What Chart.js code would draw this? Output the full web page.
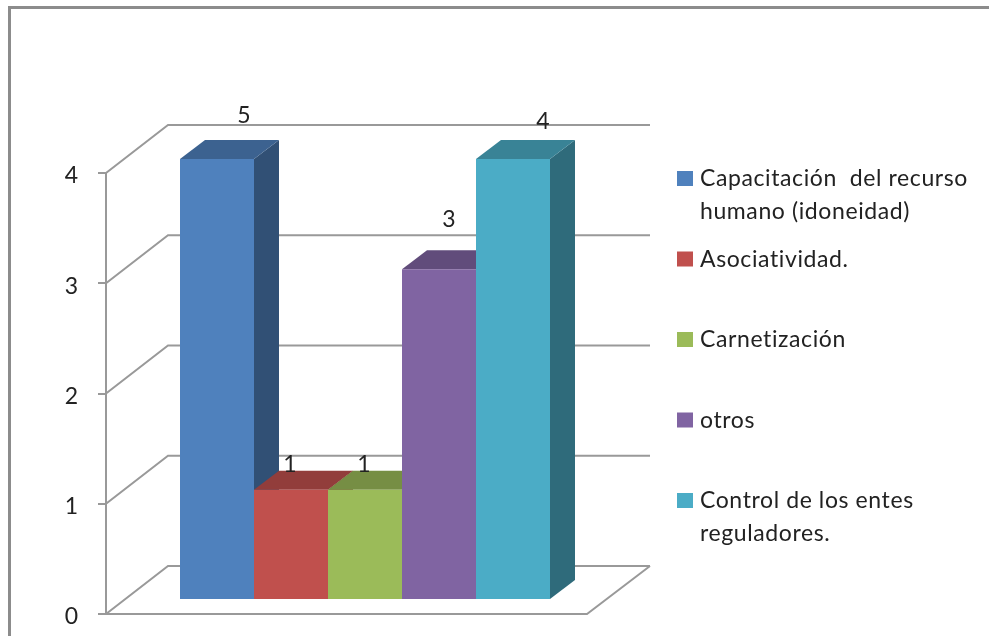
<!DOCTYPE html>
<html lang="es">

<head>
    <meta charset="UTF-8">
    <title>Grafico de barras 3D</title>
    <script src="https://cdn.jsdelivr.net/npm/chart.js"></script>
    <style>
        html, body { margin: 0; padding: 0; background: #fff; }
        canvas { display: block; }
    </style>
</head>

<body>
    <canvas id="barChart" width="989" height="636"></canvas>

    <script>
        // Data. The first bar is labelled 5 but the axis stops at 4.
        const categories = [''];
        const seriesNames = [
            'Capacitación  del recurso humano (idoneidad)',
            'Asociatividad.',
            'Carnetización',
            'otros',
            'Control de los entes reguladores.'
        ];
        const seriesValues = [5, 1, 1, 3, 4];
        const legendLines = [
            ['Capacitación  del recurso', 'humano (idoneidad)'],
            ['Asociatividad.'],
            ['Carnetización'],
            ['otros'],
            ['Control de los entes', 'reguladores.']
        ];
        const seriesColors = ['#4F81BD', '#C0504D', '#9BBB59', '#8064A2', '#4BACC6'];

        const FONT = 'Lato, "Open Sans", sans-serif';
        const LINE = '#999999';

        // 3D look, in pixels
        const wall = { dx: 62, dy: -48, right: 650 };
        const barShift = { dx: 18.5, dy: -14 };
        const depth = { dx: 25, dy: -19 };
        // Data labels were moved by hand in the original
        const labelNudge = [[27, -43], [-1, -25], [-1, -25], [10, -50], [30, -37]];

        function shade(hex, f) {
            const n = parseInt(hex.slice(1), 16);
            const c = [n >> 16, (n >> 8) & 255, n & 255].map(v => Math.round(v * f));
            return `rgb(${c[0]}, ${c[1]}, ${c[2]})`;
        }

        function poly(ctx, pts, fill) {
            ctx.beginPath();
            pts.forEach((p, i) => i ? ctx.lineTo(p[0], p[1]) : ctx.moveTo(p[0], p[1]));
            ctx.closePath();
            ctx.fillStyle = fill;
            ctx.fill();
        }

        const look3d = {
            id: 'look3d',
            beforeDraw(chart) {
                // chart frame: only top and left show in the picture
                const ctx = chart.ctx;
                ctx.save();
                ctx.fillStyle = '#8c8c8c';
                ctx.fillRect(8, 6, chart.width - 8, 3);
                ctx.fillRect(8, 6, 3, chart.height - 6);
                ctx.restore();
            },
            beforeDatasetsDraw(chart) {
                const ctx = chart.ctx;
                const y = chart.scales.y;
                const area = chart.chartArea;
                ctx.save();
                ctx.strokeStyle = LINE;
                ctx.lineWidth = 2;
                y.ticks.forEach(t => {
                    const py = y.getPixelForValue(t.value);
                    ctx.beginPath();
                    ctx.moveTo(area.left, py);
                    ctx.lineTo(area.left + wall.dx, py + wall.dy);
                    ctx.lineTo(wall.right, py + wall.dy);
                    ctx.stroke();
                });
                // rest of the floor
                const base = y.getPixelForValue(0);
                ctx.beginPath();
                ctx.moveTo(area.left, base);
                ctx.lineTo(area.right, base);
                ctx.lineTo(wall.right, base + wall.dy);
                ctx.stroke();
                ctx.restore();

                // left bar first so each bar covers the side of the one before it,
                // the library would draw them the other way round
                ctx.save();
                ctx.translate(barShift.dx, barShift.dy);
                chart.getSortedVisibleDatasetMetas().forEach(meta => {
                    const el = meta.data[0];
                    const color = seriesColors[meta.index];
                    const top = Math.max(el.y, area.top);
                    const l = el.x - el.width / 2;
                    const r = el.x + el.width / 2;
                    poly(ctx, [[r, top], [r + depth.dx, top + depth.dy],
                        [r + depth.dx, el.base + depth.dy], [r, el.base]], shade(color, 0.62));
                    poly(ctx, [[l, top], [l + depth.dx, top + depth.dy],
                        [r + depth.dx, top + depth.dy], [r, top]], shade(color, 0.76));
                    ctx.save();
                    ctx.beginPath();
                    ctx.rect(area.left, area.top, area.width, area.height);
                    ctx.clip();
                    meta.controller.draw();
                    ctx.restore();
                });
                ctx.restore();
                return false;
            },
            afterDraw(chart) {
                const ctx = chart.ctx;
                const y = chart.scales.y;
                ctx.save();
                ctx.font = '23px ' + FONT;
                ctx.fillStyle = '#222222';
                ctx.textAlign = 'center';
                ctx.textBaseline = 'middle';
                seriesValues.forEach((v, i) => {
                    const el = chart.getDatasetMeta(i).data[0];
                    const top = Math.max(el.y, y.top) + barShift.dy;
                    ctx.fillText(String(v), el.x + barShift.dx + labelNudge[i][0], top + labelNudge[i][1]);
                });

                // legend, two-line entries do not fit the built in one
                const startY = 178.5;
                const stepY = 80.5;
                ctx.textAlign = 'left';
                ctx.letterSpacing = '0.6px';
                legendLines.forEach((lines, i) => {
                    const cy = startY + i * stepY;
                    ctx.fillStyle = seriesColors[i];
                    ctx.fillRect(677, cy - 7.5, 16, 15);
                    ctx.fillStyle = '#222222';
                    lines.forEach((txt, j) => ctx.fillText(txt, 700, cy + 0.5 + j * 33));
                });
                ctx.restore();
            }
        };

        new Chart(document.getElementById('barChart').getContext('2d'), {
            type: 'bar',
            data: {
                labels: categories,
                datasets: seriesNames.map((name, i) => ({
                    label: name,
                    data: [seriesValues[i]],
                    backgroundColor: seriesColors[i],
                    borderWidth: 0
                }))
            },
            options: {
                responsive: false,
                animation: false,
                categoryPercentage: 370 / 481,
                barPercentage: 1,
                layout: { padding: { left: 46, right: 402, top: 173, bottom: 22 } },
                scales: {
                    x: { display: false },
                    y: {
                        min: 0,
                        max: 4,
                        afterFit(scale) {
                            scale.width = 60;
                            scale.paddingTop = 0;
                            scale.paddingBottom = 0;
                        },
                        ticks: {
                            stepSize: 1,
                            padding: 20,
                            labelOffset: 3,
                            color: '#222222',
                            font: { family: FONT, size: 23 }
                        },
                        grid: { drawOnChartArea: false, tickLength: 8, color: LINE, lineWidth: 2 },
                        border: { color: LINE, width: 2 }
                    }
                },
                plugins: {
                    legend: { display: false },
                    tooltip: { enabled: false }
                }
            },
            plugins: [look3d]
        });
    </script>
</body>

</html>
